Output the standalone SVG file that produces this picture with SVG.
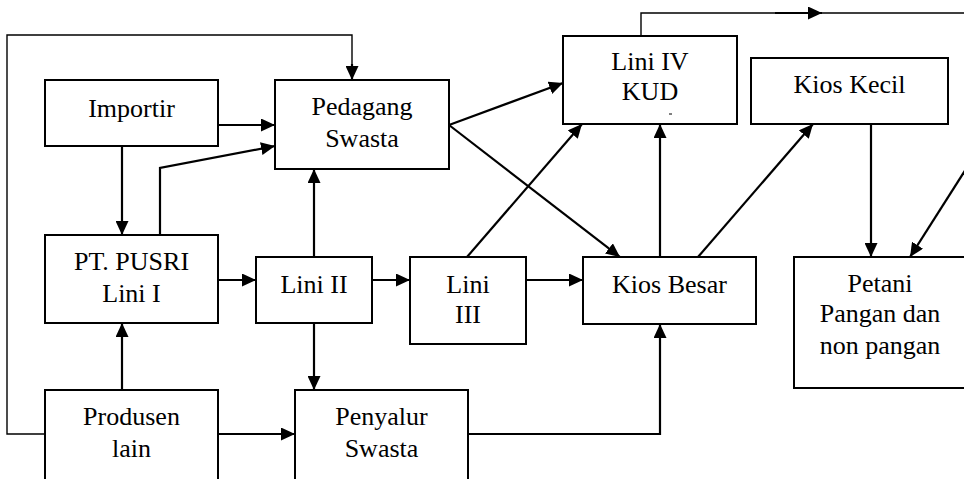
<svg xmlns="http://www.w3.org/2000/svg" width="964" height="479" viewBox="0 0 964 479">
<style>
.box{fill:#fff;stroke:#000;stroke-width:2}
.t{font-family:"Liberation Serif","Times New Roman",serif;font-size:26px;fill:#000;text-anchor:middle}
.c{fill:none;stroke:#000;stroke-width:2.2}
.thin{fill:none;stroke:#000;stroke-width:1.4}
</style>
<defs>
<marker id="ah" markerUnits="userSpaceOnUse" markerWidth="15" markerHeight="13" refX="14" refY="6.5" orient="auto">
<path d="M0,0 L14,6.5 L0,13 z" fill="#000"/>
</marker>
</defs>
<rect width="964" height="479" fill="#fff"/>
<g id="connectors">
<path class="thin" d="M45,434 H7 V35 H352 V66"/>
<path class="c" d="M352,64 V80" marker-end="url(#ah)"/>
<path class="c" d="M218,125 H275" marker-end="url(#ah)"/>
<path class="c" d="M122,146 V235" marker-end="url(#ah)"/>
<path class="c" d="M160,235 V168 L275,146" marker-end="url(#ah)"/>
<path class="c" d="M314,257 V169" marker-end="url(#ah)"/>
<path class="c" d="M218,280 H256" marker-end="url(#ah)"/>
<path class="c" d="M372,280 H410" marker-end="url(#ah)"/>
<path class="c" d="M526,280 H583" marker-end="url(#ah)"/>
<path class="c" d="M314,323 V390" marker-end="url(#ah)"/>
<path class="c" d="M122,390 V323" marker-end="url(#ah)"/>
<path class="c" d="M218,434 H295" marker-end="url(#ah)"/>
<path class="c" d="M468,434 H660 V324" marker-end="url(#ah)"/>
<path class="c" d="M449,125 L563,83" marker-end="url(#ah)"/>
<path class="c" d="M449,125 L620,257" marker-end="url(#ah)"/>
<path class="c" d="M467,257 L582,124" marker-end="url(#ah)"/>
<path class="c" d="M660,257 V124" marker-end="url(#ah)"/>
<path class="c" d="M698,257 L813,124" marker-end="url(#ah)"/>
<path class="c" d="M871,124 V257" marker-end="url(#ah)"/>
<path class="thin" d="M641,36 V13 H966"/>
<path class="c" d="M775,13 H822" marker-end="url(#ah)"/>
<path class="c" d="M966,169 L910,257" marker-end="url(#ah)"/>
</g>
<g id="importir"><rect class="box" x="45" y="80" width="173" height="66"/><text class="t" x="131.5" y="117">Importir</text></g>
<g id="pedagang"><rect class="box" x="275" y="80" width="174" height="89"/><text class="t" x="362" y="115">Pedagang</text><text class="t" x="362" y="147">Swasta</text></g>
<g id="lini4"><rect class="box" x="563" y="36" width="174" height="88"/><text class="t" x="650" y="70">Lini IV</text><text class="t" x="650" y="100">KUD</text><line x1="669" y1="114" x2="672" y2="114" stroke="#000" stroke-width="1"/></g>
<g id="kioskecil"><rect class="box" x="751" y="58" width="197" height="66"/><text class="t" x="849.5" y="93">Kios Kecil</text></g>
<g id="pusri"><rect class="box" x="45" y="235" width="173" height="88"/><text class="t" x="131.5" y="270">PT. PUSRI</text><text class="t" x="131.5" y="302">Lini I</text></g>
<g id="lini2"><rect class="box" x="256" y="257" width="116" height="66"/><text class="t" x="314" y="293">Lini II</text></g>
<g id="lini3"><rect class="box" x="410" y="257" width="116" height="87"/><text class="t" x="468" y="293">Lini</text><text class="t" x="468" y="323">III</text></g>
<g id="kiosbesar"><rect class="box" x="583" y="257" width="173" height="67"/><text class="t" x="669.5" y="293">Kios Besar</text></g>
<g id="petani"><rect class="box" x="794" y="257" width="180" height="131"/><text class="t" x="880" y="292">Petani</text><text class="t" x="880" y="322">Pangan dan</text><text class="t" x="880" y="354">non pangan</text></g>
<g id="produsen"><rect class="box" x="45" y="390" width="173" height="95"/><text class="t" x="131.5" y="425">Produsen</text><text class="t" x="131.5" y="457">lain</text></g>
<g id="penyalur"><rect class="box" x="295" y="390" width="173" height="95"/><text class="t" x="381.5" y="425">Penyalur</text><text class="t" x="381.5" y="457">Swasta</text></g>
</svg>
